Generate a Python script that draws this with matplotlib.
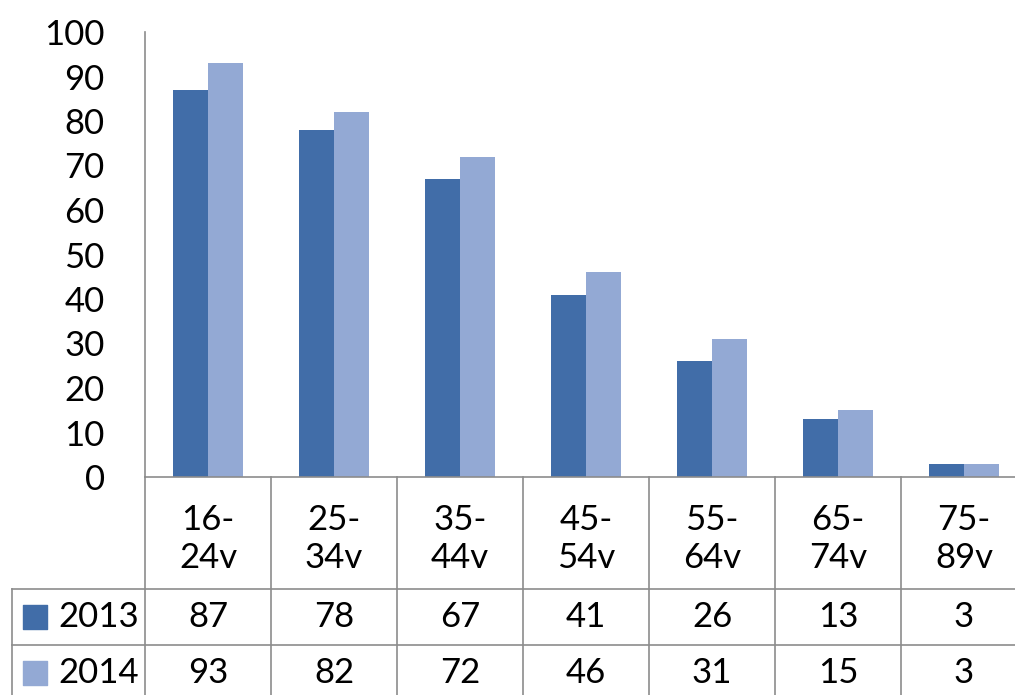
import matplotlib
matplotlib.use("Agg")
import matplotlib.pyplot as plt
import matplotlib.transforms as mtransforms
import numpy as np

plt.rcParams['font.family'] = ['Lato', 'DejaVu Sans']

# data
groups = ['16-\n24v', '25-\n34v', '35-\n44v', '45-\n54v', '55-\n64v', '65-\n74v', '75-\n89v']
v2013 = [87, 78, 67, 41, 26, 13, 3]
v2014 = [93, 82, 72, 46, 31, 15, 3]
series = ['2013', '2014']
colors = ['#416DA8', '#93A9D4']
gridc = '#8c8c8c'

W, H = 1015, 695
fig = plt.figure(figsize=(W / 100, H / 100), dpi=100)
# axes spans past the right edge like the cropped original
ax = fig.add_axes([145 / W, 1 - 477 / H, (1027 - 145) / W, (477 - 32) / H])

x = np.arange(len(groups))
bw = 0.28
ax.bar(x - bw / 2, v2013, bw, color=colors[0], zorder=2)
ax.bar(x + bw / 2, v2014, bw, color=colors[1], zorder=2)

ax.set_xlim(-0.5, len(groups) - 0.5)
ax.set_ylim(0, 100)
ax.set_yticks(range(0, 101, 10))
ax.tick_params(axis='y', length=0, pad=29, labelsize=25)
ax.set_xticks([])
for s in ['top', 'right', 'bottom']:
    ax.spines[s].set_visible(False)
ax.spines['left'].set_color(gridc)
ax.spines['left'].set_linewidth(1.2)

# data table under the plot
tr = mtransforms.blended_transform_factory(ax.transData, ax.transAxes)
px = 1.0 / (477 - 32)  # one pixel in axes units
y_axis = 0.0
y_head = -(589 - 477) * px
y_r1 = -(645 - 477) * px
y_r2 = -(720 - 477) * px
x_leg = -0.5 - (145 - 12) / 126.0

lw = 1.2
ax.plot([-0.5, len(groups) - 0.5], [y_axis, y_axis], color=gridc, lw=lw, transform=tr, clip_on=False)
for yy in [y_head, y_r1]:
    ax.plot([x_leg, len(groups) - 0.5], [yy, yy], color=gridc, lw=lw, transform=tr, clip_on=False)
for i in range(len(groups) + 1):
    ax.plot([i - 0.5, i - 0.5], [y_axis, y_r2], color=gridc, lw=lw, transform=tr, clip_on=False)
ax.plot([x_leg, x_leg], [y_head, y_r2], color=gridc, lw=lw, transform=tr, clip_on=False)

fs = 25
for i, g in enumerate(groups):
    ax.text(i, (y_axis + y_head) / 2 - 6 * px, g, ha='center', va='center', fontsize=fs,
            linespacing=1.25, transform=tr, clip_on=False)
    ax.text(i, (y_head + y_r1) / 2, str(v2013[i]), ha='center', va='center',
            fontsize=fs, transform=tr, clip_on=False)
    ax.text(i, y_r1 - 28 * px, str(v2014[i]), ha='center', va='center',
            fontsize=fs, transform=tr, clip_on=False)

# legend keys in the first column
row_y = [(y_head + y_r1) / 2, y_r1 - 28 * px]
for name, c, yy in zip(series, colors, row_y):
    ax.scatter([x_leg + 23 / 126.0], [yy], s=300, marker='s', color=c,
               transform=tr, clip_on=False)
    ax.text(x_leg + 46 / 126.0, yy, name, ha='left', va='center', fontsize=fs,
            transform=tr, clip_on=False)

fig.savefig('out.png', dpi=100)
